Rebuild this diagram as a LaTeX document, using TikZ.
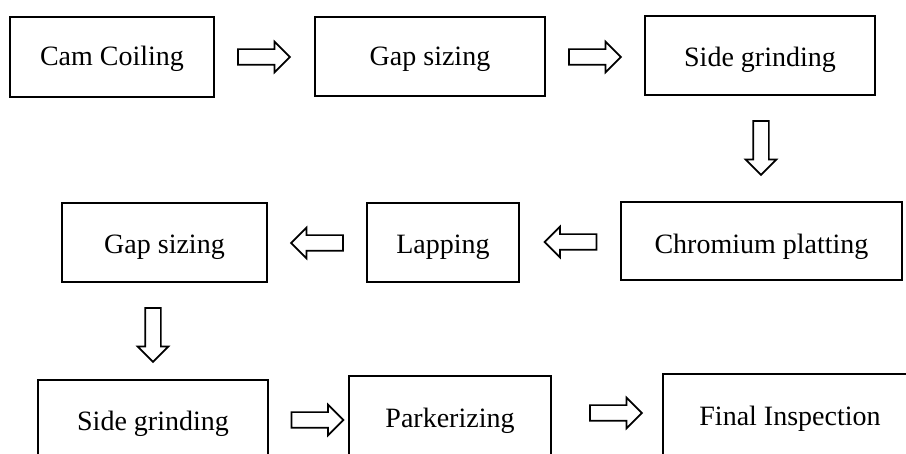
\documentclass[tikz,border=0pt]{standalone}
\usepackage{fontspec}
\setmainfont{Liberation Serif}
\usetikzlibrary{shapes.arrows}
\begin{document}
\begin{tikzpicture}[x=1pt,y=-1pt,
  box/.style={draw, line width=1.7pt, inner sep=0pt, anchor=north, font=\fontsize{28}{32}\selectfont},
  blockarrow/.style={single arrow, draw, line width=1.7pt, inner sep=7pt,
    single arrow head extend=7.5pt, single arrow tip angle=90},
  rarrow/.style={blockarrow, minimum height=52pt},
  larrow/.style={blockarrow, minimum height=52pt, shape border rotate=180},
  darrow/.style={blockarrow, minimum height=54pt, shape border rotate=270}]
\useasboundingbox (0,0) rectangle (906,454);
\clip (0,0) rectangle (906,454);
\fill[white] (0,0) rectangle (906,454);
% row 1
\node[box, minimum width=204pt, text height=49pt, text depth=31pt] (cam) at (112,16) {Cam Coiling};
\node[box, minimum width=230pt, text height=49pt, text depth=30pt] (gap1) at (430,16) {Gap sizing};
\node[box, minimum width=230pt, text height=51pt, text depth=28pt] (side1) at (760,15) {Side grinding};
% row 2
\node[box, minimum width=205pt, text height=51pt, text depth=28pt] (gap2) at (164.5,202) {Gap sizing};
\node[box, minimum width=152pt, text height=51pt, text depth=28pt] (lap) at (443,202) {Lapping};
\node[box, minimum width=281pt, text height=52pt, text depth=26pt] (chrom) at (761.5,201) {Chromium platting};
% row 3
\node[box, minimum width=230pt, text height=51pt, text depth=40pt] (side2) at (153,379) {Side grinding};
\node[box, minimum width=202pt, text height=52pt, text depth=43pt] (park) at (450,375) {Parkerizing};
\node[box, minimum width=254pt, text height=52pt, text depth=45pt] (final) at (790,373) {Final Inspection};
% arrows
\node[rarrow] (a1) at (260,57) {};
\node[rarrow] (a2) at (591,57) {};
\node[darrow] (a3) at (761,144) {};
\node[larrow] (a4) at (574.5,242) {};
\node[larrow] (a5) at (321,243) {};
\node[darrow] (a6) at (153,331) {};
\node[rarrow] (a7) at (313.5,420) {};
\node[rarrow] (a8) at (612,413) {};
\end{tikzpicture}
\end{document}
